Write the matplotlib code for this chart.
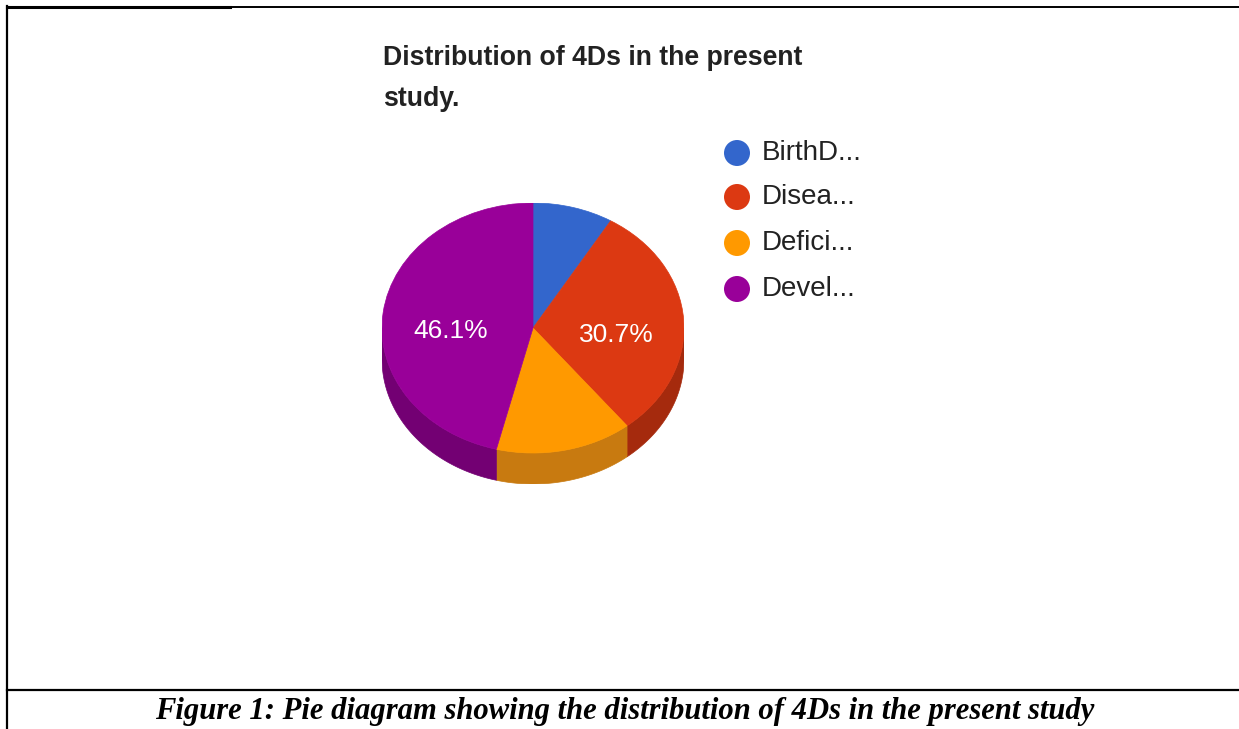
import numpy as np
import matplotlib
matplotlib.use("Agg")
import matplotlib.pyplot as plt
from matplotlib.patches import Wedge, Polygon, Ellipse
from matplotlib.lines import Line2D

# ---- data ----
categories = ["BirthD...", "Disea...", "Defici...", "Devel..."]
values = [8.6, 30.7, 14.6, 46.1]
shown_labels = [False, True, False, True]
top_colors = ["#3366cc", "#dc3912", "#ff9900", "#990099"]
side_colors = ["#254c99", "#a52a0d", "#c87a10", "#730073"]
title = "Distribution of 4Ds in the present\nstudy."
caption = "Figure 1: Pie diagram showing the distribution of 4Ds in the present study"

W, H = 1239, 729
fig = plt.figure(figsize=(W / 100, H / 100), dpi=100)
fig.patch.set_facecolor("white")

def fx(px):
    return px / W

def fy(py):
    return 1 - py / H

# ---- pie (3D look) ----
cx, cy, rx, ry, depth_px = 533, 328, 151, 125, 31
d = depth_px / ry
ax = fig.add_axes([fx(cx - rx), fy(cy + ry + depth_px), 2 * rx / W, (2 * ry + depth_px) / H])
ax.set_xlim(-1, 1)
ax.set_ylim(-1 - d, 1)
ax.set_axis_off()

total = sum(values)
fracs = [v / total for v in values]
cum = np.concatenate([[0], np.cumsum(fracs)])

# side walls (front half)
for i in range(len(values)):
    t1 = 90 - cum[i + 1] * 360
    t2 = 90 - cum[i] * 360
    lo = max(t1, -180)
    hi = min(t2, 0)
    if hi > lo:
        t = np.radians(np.linspace(lo, hi, 100))
        top = np.column_stack([np.cos(t), np.sin(t)])
        bot = np.column_stack([np.cos(t[::-1]), np.sin(t[::-1]) - d])
        ax.add_patch(Polygon(np.vstack([top, bot]), closed=True,
                             facecolor=side_colors[i], edgecolor=side_colors[i], lw=0.5))

# top wedges
for i in range(len(values)):
    t1 = 90 - cum[i + 1] * 360
    t2 = 90 - cum[i] * 360
    ax.add_patch(Wedge((0, 0), 1, t1, t2, facecolor=top_colors[i],
                       edgecolor=top_colors[i], lw=0.5))
    if shown_labels[i]:
        mid = np.radians((t1 + t2) / 2)
        r = 0.55
        ax.text(r * np.cos(mid), r * np.sin(mid) - 0.09, f"{values[i]:.1f}%",
                ha="center", va="center", color="white", fontsize=19,
                family="Liberation Sans")

# ---- title ----
fig.text(fx(383), fy(45), title, ha="left", va="top", fontsize=19.2,
         fontweight="bold", family="Liberation Sans", color="#222222",
         linespacing=1.75)

# ---- legend ----
leg_y = [153, 197, 243, 289]
for i, name in enumerate(categories):
    fig.patches.append(Ellipse((fx(737), fy(leg_y[i])), 26 / W, 26 / H,
                               transform=fig.transFigure, facecolor=top_colors[i],
                               edgecolor="none"))
    fig.text(fx(762), fy(leg_y[i]), name, ha="left", va="center", fontsize=20,
             family="Liberation Sans", color="#222222")

# ---- frame lines and caption ----
fig.add_artist(Line2D([fx(7), fx(230)], [fy(6.5), fy(6.5)], color="black", lw=2.2,
                      transform=fig.transFigure))
fig.add_artist(Line2D([fx(230), fx(1239)], [fy(6.5), fy(6.5)], color="black", lw=1.4,
                      transform=fig.transFigure))
fig.add_artist(Line2D([fx(7), fx(7)], [fy(6), fy(729)], color="black", lw=1.6,
                      transform=fig.transFigure))
fig.add_artist(Line2D([fx(7), fx(1239)], [fy(690), fy(690)], color="black", lw=1.6,
                      transform=fig.transFigure))
fig.text(fx(625), fy(712), caption, ha="center", va="center", fontsize=22.1,
         fontweight="bold", fontstyle="italic", family="Liberation Serif",
         color="black")

fig.savefig("out.png", dpi=100, facecolor="white")
